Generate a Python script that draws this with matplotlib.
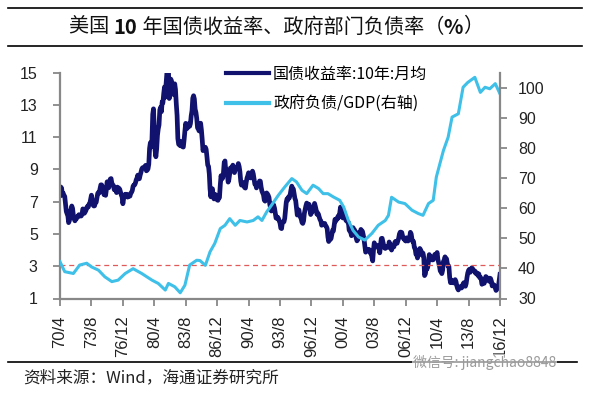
import pandas as pd
import matplotlib
matplotlib.use('Agg')
import matplotlib.pyplot as plt
from matplotlib.lines import Line2D

plt.rcParams['font.family'] = ['Liberation Sans', 'Noto Sans CJK SC', 'DejaVu Sans']
CJK = ['Noto Sans CJK SC', 'DejaVu Sans']

# US 10y treasury yield, monthly average, 1970/4 - 2016/12 (%)
yield_10y = [
    7.39, 7.91, 7.84, 7.46, 7.53, 7.39, 7.33, 6.84, 6.39,                   # 1970 (Apr-)
    6.24, 6.11, 5.70, 5.83, 6.39, 6.52, 6.73, 6.58, 6.14, 5.93, 5.81, 5.93,  # 1971
    5.95, 6.08, 6.07, 6.19, 6.13, 6.11, 6.11, 6.21, 6.55, 6.48, 6.28, 6.36,  # 1972
    6.46, 6.64, 6.71, 6.67, 6.85, 6.90, 7.13, 7.40, 7.09, 6.79, 6.73, 6.74,  # 1973
    6.99, 6.96, 7.21, 7.51, 7.58, 7.54, 7.81, 8.04, 8.04, 7.90, 7.68, 7.43,  # 1974
    7.50, 7.39, 7.73, 8.23, 8.06, 7.86, 8.06, 8.40, 8.43, 8.14, 8.05, 8.00,  # 1975
    7.74, 7.79, 7.73, 7.56, 7.90, 7.86, 7.83, 7.77, 7.59, 7.41, 7.29, 6.87,  # 1976
    7.21, 7.39, 7.46, 7.37, 7.46, 7.28, 7.33, 7.40, 7.34, 7.52, 7.58, 7.69,  # 1977
    7.96, 8.03, 8.04, 8.15, 8.35, 8.46, 8.64, 8.41, 8.42, 8.64, 8.81, 9.01,  # 1978
    9.10, 9.10, 9.12, 9.18, 9.25, 8.91, 8.95, 9.03, 9.33, 10.30, 10.65, 10.39,  # 1979
    10.80, 12.41, 12.75, 11.47, 10.18, 9.78, 10.25, 11.10, 11.51, 11.75, 12.68, 12.84,  # 1980
    12.57, 13.19, 13.12, 13.68, 14.10, 13.47, 14.28, 14.94, 15.32, 15.15, 13.39, 13.72,  # 1981
    14.59, 14.43, 13.86, 13.87, 13.62, 14.30, 13.95, 13.06, 12.34, 10.91, 10.55, 10.54,  # 1982
    10.46, 10.72, 10.51, 10.40, 10.38, 10.85, 11.38, 11.85, 11.65, 11.54, 11.69, 11.83,  # 1983
    11.67, 11.84, 12.32, 12.63, 13.41, 13.56, 13.36, 12.72, 12.52, 12.16, 11.57, 11.50,  # 1984
    11.38, 11.51, 11.86, 11.43, 10.85, 10.16, 10.31, 10.33, 10.37, 10.24, 9.78, 9.26,  # 1985
    9.19, 8.70, 7.78, 7.30, 7.71, 7.80, 7.30, 7.17, 7.45, 7.43, 7.25, 7.11,  # 1986
    7.08, 7.25, 7.25, 8.02, 8.61, 8.40, 8.45, 8.76, 9.42, 9.52, 8.86, 8.99,  # 1987
    8.67, 8.21, 8.37, 8.72, 9.09, 8.92, 9.06, 9.26, 8.98, 8.80, 8.96, 9.11,  # 1988
    9.09, 9.17, 9.36, 9.18, 8.86, 8.28, 8.02, 8.11, 8.19, 8.01, 7.87, 7.84,  # 1989
    8.21, 8.47, 8.59, 8.79, 8.76, 8.48, 8.47, 8.75, 8.89, 8.72, 8.39, 8.08,  # 1990
    8.09, 7.85, 8.11, 8.04, 8.07, 8.28, 8.27, 7.90, 7.65, 7.53, 7.42, 7.09,  # 1991
    7.03, 7.34, 7.54, 7.48, 7.39, 7.26, 6.84, 6.59, 6.42, 6.59, 6.87, 6.77,  # 1992
    6.60, 6.26, 5.98, 5.97, 6.04, 5.96, 5.81, 5.68, 5.36, 5.33, 5.72, 5.77,  # 1993
    5.75, 5.97, 6.48, 6.97, 7.18, 7.10, 7.30, 7.24, 7.46, 7.74, 7.96, 7.81,  # 1994
    7.78, 7.47, 7.20, 7.06, 6.63, 6.17, 6.28, 6.49, 6.20, 6.04, 5.93, 5.71,  # 1995
    5.65, 5.81, 6.27, 6.51, 6.74, 6.91, 6.87, 6.64, 6.83, 6.53, 6.20, 6.30,  # 1996
    6.58, 6.42, 6.69, 6.89, 6.71, 6.49, 6.22, 6.30, 6.21, 6.03, 5.88, 5.81,  # 1997
    5.54, 5.57, 5.65, 5.64, 5.65, 5.50, 5.46, 5.34, 4.81, 4.53, 4.83, 4.65,  # 1998
    4.72, 5.00, 5.23, 5.18, 5.54, 5.90, 5.79, 5.94, 5.92, 6.11, 6.03, 6.28,  # 1999
    6.66, 6.52, 6.26, 5.99, 6.44, 6.10, 6.05, 5.83, 5.80, 5.74, 5.72, 5.24,  # 2000
    5.16, 5.10, 4.89, 5.14, 5.39, 5.28, 5.24, 4.97, 4.73, 4.57, 4.65, 5.09,  # 2001
    5.04, 4.91, 5.28, 5.21, 5.16, 4.93, 4.65, 4.26, 3.87, 3.94, 4.05, 4.03,  # 2002
    4.05, 3.90, 3.81, 3.96, 3.57, 3.33, 3.98, 4.45, 4.27, 4.29, 4.30, 4.27,  # 2003
    4.15, 4.08, 3.83, 4.35, 4.72, 4.73, 4.50, 4.28, 4.13, 4.10, 4.19, 4.23,  # 2004
    4.22, 4.17, 4.50, 4.34, 4.14, 4.00, 4.18, 4.26, 4.20, 4.46, 4.54, 4.47,  # 2005
    4.42, 4.57, 4.72, 4.99, 5.11, 5.11, 5.09, 4.88, 4.72, 4.73, 4.60, 4.56,  # 2006
    4.76, 4.72, 4.56, 4.69, 4.75, 5.10, 5.00, 4.67, 4.52, 4.53, 4.15, 4.10,  # 2007
    3.74, 3.74, 3.51, 3.68, 3.88, 4.10, 4.01, 3.89, 3.69, 3.81, 3.53, 2.42,  # 2008
    2.52, 2.87, 2.82, 2.93, 3.29, 3.72, 3.56, 3.59, 3.40, 3.39, 3.40, 3.59,  # 2009
    3.73, 3.69, 3.73, 3.85, 3.42, 3.20, 3.01, 2.70, 2.65, 2.54, 2.76, 3.29,  # 2010
    3.39, 3.58, 3.41, 3.46, 3.17, 3.00, 3.00, 2.30, 1.98, 2.15, 2.01, 1.98,  # 2011
    1.97, 1.97, 2.17, 2.05, 1.80, 1.62, 1.53, 1.68, 1.72, 1.75, 1.65, 1.72,  # 2012
    1.91, 1.98, 1.96, 1.76, 1.93, 2.30, 2.58, 2.74, 2.81, 2.62, 2.72, 2.90,  # 2013
    2.86, 2.71, 2.72, 2.71, 2.56, 2.60, 2.54, 2.42, 2.53, 2.30, 2.33, 2.21,  # 2014
    1.88, 1.98, 2.04, 1.94, 2.20, 2.36, 2.32, 2.17, 2.17, 2.07, 2.26, 2.24,  # 2015
    2.09, 1.78, 1.89, 1.81, 1.81, 1.64, 1.50, 1.56, 1.63, 1.76, 2.14, 2.49,  # 2016
]

# government debt / GDP (right axis)
debt_dates = ['1970-04', '1970-10', '1971-09', '1972-05', '1973-02', '1973-08', '1974-05', '1975-01',
              '1975-10', '1976-06', '1977-03', '1978-01', '1978-12', '1980-01', '1980-09', '1981-06',
              '1981-10', '1982-06', '1983-01', '1983-07', '1984-01', '1984-10', '1985-02', '1985-09',
              '1986-03', '1986-09', '1987-04', '1987-10', '1988-04', '1988-11', '1989-05', '1990-02',
              '1990-10', '1991-04', '1991-09', '1992-03', '1992-09', '1993-06', '1994-02', '1994-11',
              '1995-05', '1995-12', '1996-06', '1997-02', '1997-09', '1998-03', '1998-09', '1999-04',
              '1999-12', '2000-05', '2000-11', '2001-05', '2001-12', '2002-08', '2003-05', '2004-01',
              '2004-10', '2005-02', '2005-06', '2006-03', '2006-11', '2007-08', '2008-04', '2008-10',
              '2009-05', '2009-11', '2010-03', '2010-12', '2011-06', '2011-11', '2012-07', '2013-01',
              '2013-07', '2014-04', '2014-11', '2015-05', '2015-11', '2016-06', '2016-12']
debt_ratio = [42.2, 38.9, 38.3, 41.1, 41.7, 40.5, 39.4, 37.2,
              35.6, 36.1, 38.3, 39.9, 38.3, 36.1, 35.0, 32.8,
              35.0, 33.9, 31.9, 34.4, 41.1, 42.7, 42.6, 41.0,
              45.5, 48.3, 53.2, 54.3, 56.5, 54.3, 55.9, 55.4,
              55.9, 57.1, 55.9, 58.7, 60.9, 64.3, 67.0, 69.8,
              68.7, 65.9, 64.8, 67.6, 66.5, 64.8, 64.8, 63.7,
              62.6, 60.4, 55.9, 52.6, 50.4, 49.4, 51.6, 54.3,
              55.9, 57.6, 63.6, 62.0, 61.5, 59.3, 58.2, 57.6,
              61.5, 62.6, 70.3, 79.1, 83.5, 90.2, 91.3, 100.1,
              101.7, 103.4, 98.4, 100.1, 99.6, 101.3, 97.9]

tick_labels = ['70/4', '73/8', '76/12', '80/4', '83/8', '86/12', '90/4', '93/8',
               '96/12', '00/4', '03/8', '06/12', '10/4', '13/8', '16/12']
ref_level = 3.08  # dashed reference line, left axis

months = pd.date_range('1970-04-01', periods=len(yield_10y), freq='MS')
debt_x = pd.to_datetime(debt_dates)
tick_pos = pd.date_range('1970-04-01', periods=len(tick_labels), freq='40MS')

navy = '#10126e'
cyan = '#3ec0e8'
grey = '#888888'

fig = plt.figure(figsize=(5.9, 3.99), dpi=100)
ax = fig.add_axes([60 / 590, 1 - 298.5 / 399, 440 / 590, 226 / 399])
ax2 = ax.twinx()

ax.plot(months, yield_10y, color=navy, lw=3.4, solid_joinstyle='round', label='国债收益率:10年:月均')
ax.axhline(ref_level, color='#e05a5a', lw=0.9, ls=(0, (4, 3)))
ax2.plot(debt_x, debt_ratio, color=cyan, lw=2.2, solid_joinstyle='round', label='政府负债/GDP(右轴)')

ax.set_xlim(months[0], months[-1])
ax.set_ylim(1, 15)
ax.set_yticks(range(1, 16, 2))
ax2.set_ylim(30, 105)
ax2.set_yticks(range(30, 101, 10))
ax.set_xticks(tick_pos)
ax.set_xticklabels(tick_labels, rotation=90)

for a in (ax, ax2):
    for s in a.spines.values():
        s.set_visible(False)
ax.spines['left'].set_visible(True)
ax.spines['bottom'].set_visible(True)
ax2.spines['right'].set_visible(True)
for s in (ax.spines['left'], ax.spines['bottom'], ax2.spines['right']):
    s.set_color(grey)
    s.set_linewidth(1.6)

ax.tick_params(axis='y', length=5, width=1.3, color=grey, pad=11, labelsize=11.5, labelcolor='#222222')
ax.tick_params(axis='x', length=5, width=1.3, color=grey, pad=7, labelsize=12, labelcolor='#222222')
ax2.tick_params(axis='y', length=5, width=1.3, color=grey, pad=8, labelsize=11.5, labelcolor='#222222')

h1, l1 = ax.get_legend_handles_labels()
h2, l2 = ax2.get_legend_handles_labels()
leg = ax2.legend(h1 + h2, l1 + l2, loc='upper left', bbox_to_anchor=(226 / 590, 1 - 66 / 399),
                 bbox_transform=fig.transFigure, frameon=False, borderpad=0, borderaxespad=0,
                 handlelength=2.7, handletextpad=0.25, labelspacing=0.8,
                 prop={'family': CJK, 'size': 11.5})
for line in leg.get_lines():
    line.set_linewidth(3)

# title: pieces chained left to right, the number and % in bold
title_parts = [('美国 ', 'normal'), ('10', 'bold'), (' 年国债收益率、政府部门负债率（', 'normal'),
               ('%', 'bold'), ('）', 'normal')]
renderer = fig.canvas.get_renderer()
x0 = 69 / 590
for txt, weight in title_parts:
    t = fig.text(x0, 1 - 27 / 399, txt, family=CJK, fontsize=14.5, fontweight=weight,
                 va='center', ha='left', color='#111111')
    bb = t.get_window_extent(renderer)
    x0 = bb.x1 / fig.bbox.width

for y in (8.3, 46):
    fig.add_artist(Line2D([8 / 590, 582 / 590], [1 - y / 399] * 2, color='black', lw=1.2))
fig.add_artist(Line2D([8 / 590, 577 / 590], [1 - 361.7 / 399] * 2, color='black', lw=1.2))
fig.text(23 / 590, 1 - 378 / 399, '资料来源：Wind，海通证券研究所', family=CJK,
         fontsize=12, va='center', ha='left', color='#222222')
fig.text(413 / 590, 1 - 362 / 399, '微信号: jiangchao8848', family=CJK, fontsize=10,
         va='center', ha='left', color='#9a9a9a',
         bbox=dict(facecolor='white', edgecolor='none', pad=0.5, alpha=0.6))

fig.savefig('out.png', dpi=100)
